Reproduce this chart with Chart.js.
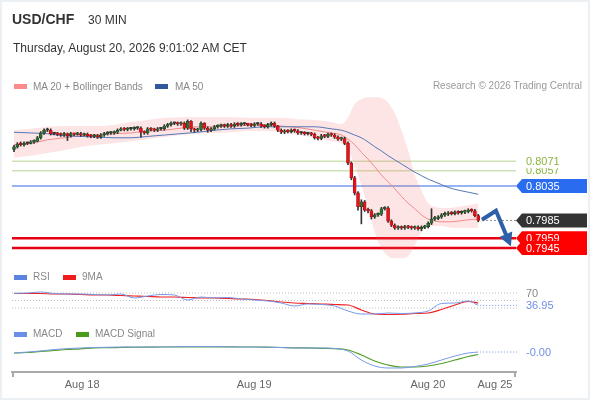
<!DOCTYPE html>
<html lang="en">

<head>
    <meta charset="utf-8">
    <title>USD/CHF 30 MIN</title>
    <script src="https://cdn.jsdelivr.net/npm/chart.js"></script>
    <style>
        body { margin: 0; background: #fff; font-family: "Liberation Sans", Arial, sans-serif; }
        #card { position: relative; width: 590px; height: 400px; overflow: hidden; background: #fff; }
        #frame { position: absolute; left: 0; top: 0; width: 590px; height: 400px; box-sizing: border-box; border: 2px solid #edf0f3; pointer-events: none; }
        #chart { position: absolute; left: 0; top: 0; }
        .t { position: absolute; white-space: nowrap; line-height: 1; }
        .sw { position: absolute; width: 13px; height: 5px; }
    </style>
</head>

<body>
    <div id="card">
        <canvas id="chart" width="590" height="400"></canvas>

        <div class="t" style="left:12px; top:12px; font-size:14px; font-weight:bold; color:#333">USD/CHF</div>
        <div class="t" style="left:88px; top:14px; font-size:12px; color:#333">30 MIN</div>
        <div class="t" style="left:13px; top:42px; font-size:12px; color:#333">Thursday, August 20, 2026 9:01:02 AM CET</div>

        <!-- price legend -->
        <span class="sw" style="left:14px; top:84px; background:#f98b8b"></span>
        <div class="t" style="left:33px; top:81.5px; font-size:10px; color:#888">MA 20 + Bollinger Bands</div>
        <span class="sw" style="left:155px; top:84px; background:#2e5a9c"></span>
        <div class="t" style="left:175px; top:81.5px; font-size:10px; color:#888">MA 50</div>
        <div class="t" style="right:8px; top:81px; font-size:10px; color:#9a9a9a">Research © 2026 Trading Central</div>

        <!-- RSI legend -->
        <span class="sw" style="left:14px; top:275px; background:#5b83e0"></span>
        <div class="t" style="left:33px; top:272px; font-size:10px; color:#888">RSI</div>
        <span class="sw" style="left:63px; top:275px; background:#ee1c1c"></span>
        <div class="t" style="left:82px; top:272px; font-size:10px; color:#888">9MA</div>

        <!-- MACD legend -->
        <span class="sw" style="left:14px; top:332px; background:#6a8fe6"></span>
        <div class="t" style="left:33px; top:329px; font-size:10px; color:#888">MACD</div>
        <span class="sw" style="left:76px; top:332px; background:#4a9a1c"></span>
        <div class="t" style="left:95px; top:329px; font-size:10px; color:#888">MACD Signal</div>

        <div id="frame"></div>
    </div>

    <script>
        // 30 min candles, one per slot on the x axis (0 .. 139)
        const firstOpen = 0.8088; // every later bar opens where the previous one closed
        const closes = [
            0.8092, 0.8096, 0.8095, 0.8097, 0.8097, 0.8099, 0.8100, 0.8105, 0.8112, 0.8116,
            0.8116, 0.8111, 0.8111, 0.8110, 0.8109, 0.8111, 0.8108, 0.8111, 0.8110, 0.8111,
            0.8109, 0.8110, 0.8108, 0.8107, 0.8108, 0.8106, 0.8109, 0.8111, 0.8112, 0.8112,
            0.8113, 0.8116, 0.8118, 0.8117, 0.8118, 0.8118, 0.8119, 0.8119, 0.8113, 0.8112,
            0.8118, 0.8117, 0.8116, 0.8118, 0.8118, 0.8122, 0.8124, 0.8126, 0.8126, 0.8125,
            0.8126, 0.8119, 0.8129, 0.8118, 0.8116, 0.8117, 0.8126, 0.8119, 0.8116, 0.8118,
            0.8121, 0.8122, 0.8123, 0.8122, 0.8124, 0.8122, 0.8125, 0.8124, 0.8125, 0.8125,
            0.8124, 0.8123, 0.8125, 0.8125, 0.8122, 0.8121, 0.8124, 0.8126, 0.8122, 0.8116,
            0.8113, 0.8115, 0.8114, 0.8116, 0.8115, 0.8112, 0.8112, 0.8111, 0.8111, 0.8110,
            0.8105, 0.8104, 0.8108, 0.8107, 0.8110, 0.8109, 0.8106, 0.8103, 0.8104, 0.8097,
            0.8068, 0.8047, 0.8025, 0.8005, 0.8012, 0.8000, 0.7999, 0.7990, 0.7993, 0.7994,
            0.8002, 0.8003, 0.7984, 0.7978, 0.7974, 0.7975, 0.7974, 0.7976, 0.7975, 0.7974,
            0.7975, 0.7973, 0.7975, 0.7976, 0.7981, 0.7987, 0.7988, 0.7990, 0.7993, 0.7994,
            0.7996, 0.7995, 0.7997, 0.7996, 0.7997, 0.7998, 0.8000, 0.7999, 0.7992, 0.7985
        ];
        const highs = [
            0.8094, 0.8098, 0.8099, 0.8099, 0.8099, 0.8101, 0.8102, 0.8107, 0.8114, 0.8118,
            0.8119, 0.8118, 0.8113, 0.8113, 0.8112, 0.8113, 0.8112, 0.8113, 0.8112, 0.8113,
            0.8113, 0.8112, 0.8112, 0.8110, 0.8110, 0.8110, 0.8111, 0.8113, 0.8114, 0.8114,
            0.8115, 0.8118, 0.8120, 0.8120, 0.8120, 0.8120, 0.8121, 0.8121, 0.8121, 0.8115,
            0.8120, 0.8120, 0.8119, 0.8120, 0.8120, 0.8124, 0.8126, 0.8128, 0.8128, 0.8128,
            0.8128, 0.8128, 0.8131, 0.8130, 0.8119, 0.8119, 0.8128, 0.8127, 0.8121, 0.8120,
            0.8123, 0.8124, 0.8125, 0.8125, 0.8126, 0.8126, 0.8127, 0.8127, 0.8127, 0.8127,
            0.8126, 0.8126, 0.8127, 0.8127, 0.8127, 0.8124, 0.8126, 0.8128, 0.8128, 0.8123,
            0.8118, 0.8117, 0.8117, 0.8118, 0.8118, 0.8117, 0.8114, 0.8114, 0.8113, 0.8113,
            0.8112, 0.8107, 0.8110, 0.8110, 0.8112, 0.8112, 0.8111, 0.8108, 0.8106, 0.8106,
            0.8099, 0.8070, 0.8049, 0.8027, 0.8015, 0.8014, 0.8003, 0.8001, 0.7995, 0.7996,
            0.8004, 0.8005, 0.8005, 0.7986, 0.7980, 0.7977, 0.7977, 0.7978, 0.7978, 0.7977,
            0.7977, 0.7977, 0.7977, 0.7978, 0.7983, 0.8002, 0.7991, 0.7992, 0.7995, 0.7997,
            0.7998, 0.7998, 0.7999, 0.7999, 0.7999, 0.8000, 0.8002, 0.8002, 0.8001, 0.7994
        ];
        const lows = [
            0.8085, 0.8090, 0.8093, 0.8093, 0.8095, 0.8096, 0.8097, 0.8099, 0.8103, 0.8110,
            0.8114, 0.8109, 0.8109, 0.8108, 0.8107, 0.8107, 0.8101, 0.8106, 0.8108, 0.8109,
            0.8107, 0.8108, 0.8106, 0.8105, 0.8105, 0.8104, 0.8104, 0.8107, 0.8109, 0.8110,
            0.8110, 0.8111, 0.8115, 0.8115, 0.8115, 0.8116, 0.8116, 0.8117, 0.8106, 0.8110,
            0.8110, 0.8115, 0.8114, 0.8114, 0.8116, 0.8116, 0.8120, 0.8122, 0.8124, 0.8123,
            0.8123, 0.8117, 0.8117, 0.8114, 0.8113, 0.8114, 0.8115, 0.8117, 0.8113, 0.8114,
            0.8116, 0.8119, 0.8120, 0.8120, 0.8120, 0.8120, 0.8120, 0.8122, 0.8122, 0.8123,
            0.8122, 0.8121, 0.8121, 0.8123, 0.8120, 0.8119, 0.8119, 0.8122, 0.8120, 0.8114,
            0.8111, 0.8111, 0.8112, 0.8112, 0.8113, 0.8110, 0.8110, 0.8109, 0.8109, 0.8108,
            0.8103, 0.8102, 0.8102, 0.8105, 0.8105, 0.8107, 0.8104, 0.8101, 0.8101, 0.8095,
            0.8066, 0.8044, 0.8022, 0.8000, 0.7980, 0.7998, 0.7996, 0.7987, 0.7988, 0.7991,
            0.7992, 0.8000, 0.7982, 0.7976, 0.7972, 0.7972, 0.7972, 0.7972, 0.7973, 0.7972,
            0.7972, 0.7971, 0.7970, 0.7973, 0.7974, 0.7979, 0.7985, 0.7986, 0.7988, 0.7991,
            0.7992, 0.7993, 0.7993, 0.7994, 0.7994, 0.7995, 0.7996, 0.7997, 0.7990, 0.7983
        ];

        // moving averages and Bollinger bands, read at these slots
        const maX = [0, 5, 10, 15, 20, 25, 30, 35, 40, 45, 50, 55, 60, 65, 70, 75, 80, 85, 90, 95,
            98, 100, 102, 104, 106, 108, 110, 112, 114, 116, 118, 120, 122, 124, 126, 128, 130, 133, 136, 139];
        const ma20 = [0.8095, 0.8097, 0.8102, 0.8105, 0.8108, 0.8109, 0.8111, 0.8112, 0.8115, 0.8116,
            0.8119, 0.8121, 0.8121, 0.8122, 0.8123, 0.8124, 0.8122, 0.8120, 0.8116, 0.8112,
            0.8109, 0.8103, 0.8095, 0.8084, 0.8074, 0.8063, 0.8051, 0.8041, 0.8031, 0.8020,
            0.8010, 0.8002, 0.7993, 0.7987, 0.7984, 0.7983, 0.7983, 0.7984, 0.7986, 0.7987];
        const ma50 = [0.8113, 0.8112, 0.8111, 0.8108, 0.8107, 0.8106, 0.8105, 0.8105, 0.8107, 0.8109,
            0.8111, 0.8113, 0.8116, 0.8118, 0.8119, 0.8121, 0.8121, 0.8121, 0.8121, 0.8118,
            0.8116, 0.8113, 0.8109, 0.8105, 0.8099, 0.8092, 0.8086, 0.8079, 0.8073, 0.8067,
            0.8061, 0.8055, 0.8050, 0.8045, 0.8041, 0.8037, 0.8033, 0.8029, 0.8026, 0.8023];
        const bbUpper = [0.8116, 0.8118, 0.8121, 0.8122, 0.8122, 0.8122, 0.8124, 0.8128, 0.8131, 0.8134,
            0.8135, 0.8135, 0.8135, 0.8135, 0.8134, 0.8134, 0.8134, 0.8132, 0.8131, 0.8128,
            0.8125, 0.8134, 0.8154, 0.8161, 0.8164, 0.8164, 0.8163, 0.8156, 0.8141, 0.8116,
            0.8087, 0.8051, 0.8029, 0.8010, 0.8005, 0.8003, 0.8003, 0.8005, 0.8007, 0.8010];
        const bbLower = [0.8076, 0.8079, 0.8083, 0.8087, 0.8092, 0.8095, 0.8097, 0.8100, 0.8103, 0.8106,
            0.8109, 0.8111, 0.8112, 0.8113, 0.8115, 0.8115, 0.8113, 0.8109, 0.8105, 0.8100,
            0.8097, 0.8087, 0.8065, 0.8036, 0.8003, 0.7968, 0.7945, 0.7933, 0.7930, 0.7930,
            0.7933, 0.7949, 0.7968, 0.7977, 0.7977, 0.7977, 0.7975, 0.7974, 0.7974, 0.7974];

        // oscillators, read at these slots
        const oscX = [0, 4, 8, 12, 16, 20, 24, 28, 32, 36, 40, 44, 48, 52, 56, 60, 64, 68, 72, 76,
            80, 84, 88, 92, 96, 100, 104, 108, 112, 116, 120, 124, 128, 132, 136, 139];
        const rsi = [69.2, 70, 72.7, 68.7, 67.3, 67.3, 66, 64.7, 67.3, 56.7,
            62, 66, 64.7, 51.3, 59.3, 56.7, 58, 54, 51.3, 48.7,
            43.3, 35.3, 40.7, 39.3, 35.3, 22, 14, 14, 16.7, 15.3,
            16.7, 22, 42, 43.3, 48.7, 36.95];
        const rsiMa = [68.7, 68.7, 68.7, 67.3, 67.3, 66, 64.7, 64.7, 63.3, 62,
            60.7, 59.3, 59.3, 58, 56.7, 56.7, 55.3, 54, 52.7, 50,
            46, 43.3, 42, 40.7, 39.3, 38, 24.7, 14, 12.7, 13.3,
            15.3, 16.7, 26, 38, 47.3, 43.3];
        const macd = [-0.00043, -0.00029, -0.00014, 0.00007, 0.00021, 0.00029, 0.00036, 0.00039, 0.00043, 0.00043,
            0.00043, 0.00043, 0.00046, 0.0005, 0.0005, 0.0005, 0.00046, 0.00043, 0.00043, 0.00039,
            0.00036, 0.00029, 0.00029, 0.00029, 0.00021, -0.00014, -0.00143, -0.00229, -0.00257, -0.00257,
            -0.00236, -0.002, -0.00143, -0.00086, -0.00043, -0.00029];
        const macdSignal = [-0.00043, -0.00036, -0.00021, -0.00007, 0.00007, 0.00017, 0.00029, 0.00033, 0.00036, 0.00039,
            0.0004, 0.00043, 0.00043, 0.00046, 0.00046, 0.00046, 0.00046, 0.00043, 0.00043, 0.0004,
            0.00036, 0.00031, 0.00029, 0.00024, 0.00021, 0, -0.00071, -0.00157, -0.00214, -0.00243,
            -0.00243, -0.00229, -0.00193, -0.00143, -0.00093, -0.00064];
        const rsiLevels = [70, 50, 30];

        // key levels and projected path
        const resistances = [0.8071, 0.8057];
        const pivots = [0.8035];
        const supports = [0.7959, 0.7945];
        const projX = [140.1, 144.3, 147.6];
        const projY = [0.7986, 0.7999, 0.7961];

        // x axis
        const tickPositions = [20.4, 71.9, 123.9, 144.0];
        const tickLabels = ['Aug 18', 'Aug 19', 'Aug 20', 'Aug 25'];

        const FONT = '"Liberation Sans", Arial, sans-serif';
        const pts = (xs, vs) => xs.map((x, k) => ({ x: x, y: vs[k] }));
        const bodies = closes.map((c, i) => ({ x: i, y: [i === 0 ? firstOpen : closes[i - 1], c] }));
        const wicks = closes.map((c, i) => ({ x: i, y: [lows[i], highs[i]] }));

        function hLine(ctx, y, x0, x1, color, width, dash) {
            ctx.save();
            ctx.strokeStyle = color;
            ctx.lineWidth = width;
            ctx.setLineDash(dash || []);
            ctx.beginPath();
            ctx.moveTo(x0, y);
            ctx.lineTo(x1, y);
            ctx.stroke();
            ctx.restore();
        }

        function tag(ctx, y, text, fill) {
            const x0 = 516, x1 = 587, h = 14, tip = 6;
            ctx.beginPath();
            ctx.moveTo(x0, y);
            ctx.lineTo(x0 + tip, y - h / 2);
            ctx.lineTo(x1, y - h / 2);
            ctx.lineTo(x1, y + h / 2);
            ctx.lineTo(x0 + tip, y + h / 2);
            ctx.closePath();
            ctx.fillStyle = fill;
            ctx.fill();
            ctx.fillStyle = '#fff';
            ctx.fillText(text, 526, y + 0.5);
        }

        const overlay = {
            id: 'overlay',
            beforeDatasetsDraw(chart) {
                const { ctx, chartArea: a, scales: { y, yR } } = chart;
                resistances.forEach(v => hLine(ctx, y.getPixelForValue(v), a.left, a.right, '#cfe2b6', 1.5));
                pivots.forEach(v => hLine(ctx, y.getPixelForValue(v), a.left, a.right, '#2d6be3', 1.2));
                supports.forEach(v => hLine(ctx, y.getPixelForValue(v), a.left, a.right, '#e60012', 2.5));
                rsiLevels.forEach(v => hLine(ctx, yR.getPixelForValue(v), a.left, a.right + 1, '#bbbbbb', 1, [1, 2]));
            },
            afterDatasetsDraw(chart) {
                const { ctx, chartArea: a, scales: { x, y, yR, yM } } = chart;
                ctx.save();
                ctx.font = '11px ' + FONT;
                ctx.textBaseline = 'middle';
                ctx.textAlign = 'left';

                // resistance labels (white backed, highest on top)
                resistances.slice().sort((p, q) => p - q).forEach(v => {
                    const py = y.getPixelForValue(v);
                    ctx.fillStyle = '#fff';
                    ctx.fillRect(518, py - 7, 69, 14);
                    ctx.fillStyle = '#8cb53e';
                    ctx.fillText(v.toFixed(4), 526, py + 0.5);
                });

                // last price
                const last = closes[closes.length - 1];
                const lastY = y.getPixelForValue(last);
                hLine(ctx, lastY, x.getPixelForValue(closes.length - 1) + 4, 516, '#666', 1, [1.5, 2.5]);

                pivots.forEach(v => tag(ctx, y.getPixelForValue(v), v.toFixed(4), '#2a6cf0'));
                tag(ctx, lastY, last.toFixed(4), '#333333');
                supports.forEach(v => tag(ctx, y.getPixelForValue(v), v.toFixed(4), '#ff0000'));

                // arrow head on the projected path
                const meta = chart.getDatasetMeta(10);
                const p1 = meta.data[meta.data.length - 2], p2 = meta.data[meta.data.length - 1];
                const ang = Math.atan2(p2.y - p1.y, p2.x - p1.x);
                ctx.save();
                ctx.translate(p2.x, p2.y);
                ctx.rotate(ang);
                ctx.fillStyle = '#2e5fa8';
                ctx.beginPath();
                ctx.moveTo(10, 0);
                ctx.lineTo(-3, -7);
                ctx.lineTo(-3, 7);
                ctx.closePath();
                ctx.fill();
                ctx.restore();

                // RSI labels
                ctx.fillStyle = '#888';
                ctx.fillText(String(rsiLevels[0]), 526, yR.getPixelForValue(rsiLevels[0]) + 0.5);
                const rLast = rsi[rsi.length - 1];
                const rY = yR.getPixelForValue(rLast);
                hLine(ctx, rY, x.getPixelForValue(oscX[oscX.length - 1]) + 2, 517, '#6e8fe6', 1, [1, 2]);
                ctx.fillStyle = '#6e8fe6';
                ctx.fillText(rLast.toFixed(2), 526, rY + 0.5);

                // MACD label
                const mLast = macd[macd.length - 1];
                const mY = yM.getPixelForValue(mLast);
                hLine(ctx, mY, x.getPixelForValue(oscX[oscX.length - 1]) + 2, 517, '#6e8fe6', 1, [1, 2]);
                ctx.fillStyle = '#6e8fe6';
                ctx.fillText(mLast.toFixed(2), 526, mY + 0.5);

                // end ticks of the time axis
                ctx.strokeStyle = '#aaa';
                ctx.lineWidth = 2;
                ctx.beginPath();
                ctx.moveTo(a.left + 1, a.bottom);
                ctx.lineTo(a.left + 1, a.bottom + 5);
                ctx.moveTo(a.right - 1, a.bottom);
                ctx.lineTo(a.right - 1, a.bottom + 5);
                ctx.stroke();
                ctx.restore();
            }
        };

        const line = (data, color, width, axis, order) => ({
            type: 'line', data: data, borderColor: color, borderWidth: width, pointRadius: 0,
            cubicInterpolationMode: 'monotone', yAxisID: axis, order: order, fill: false
        });

        const ctx = document.getElementById('chart').getContext('2d');
        const chart = new Chart(ctx, {
            type: 'bar',
            data: {
                datasets: [
                    {
                        type: 'line', data: pts(maX, bbUpper), borderWidth: 0, pointRadius: 0,
                        cubicInterpolationMode: 'monotone', yAxisID: 'y', order: 20,
                        fill: '+1', backgroundColor: 'rgba(245, 100, 100, 0.17)'
                    },
                    {
                        type: 'line', data: pts(maX, bbLower), borderWidth: 0, pointRadius: 0,
                        cubicInterpolationMode: 'monotone', yAxisID: 'y', order: 20, fill: false
                    },
                    line(pts(maX, ma50), '#5576b6', 1, 'y', 15),
                    line(pts(maX, ma20), '#f08a8a', 1, 'y', 15),
                    {
                        data: wicks, yAxisID: 'y', grouped: false, barThickness: 1,
                        backgroundColor: '#333333', order: 10
                    },
                    {
                        data: bodies, yAxisID: 'y', grouped: false, barThickness: 3, minBarLength: 1.5,
                        order: 9, borderWidth: 0.6, borderSkipped: false,
                        backgroundColor: c => {
                            const o = c.raw.y[0], cl = c.raw.y[1];
                            return cl > o ? '#2f7035' : (cl < o ? '#e3141b' : '#3a3a3a');
                        },
                        borderColor: c => {
                            const o = c.raw.y[0], cl = c.raw.y[1];
                            return cl > o ? '#1c3f1f' : (cl < o ? '#a40d10' : '#333333');
                        }
                    },
                    line(pts(oscX, rsi), '#7799e8', 1, 'yR', 5),
                    line(pts(oscX, rsiMa), '#ee2222', 1.2, 'yR', 5),
                    line(pts(oscX, macd), '#7799e8', 1, 'yM', 5),
                    line(pts(oscX, macdSignal), '#55a02a', 1.2, 'yM', 5),
                    {
                        type: 'line', data: pts(projX, projY), borderColor: '#2e5fa8', borderWidth: 4,
                        pointRadius: 0, tension: 0, yAxisID: 'y', order: 1, fill: false,
                        borderJoinStyle: 'miter', clip: false
                    }
                ]
            },
            options: {
                responsive: false,
                animation: false,
                events: [],
                layout: { padding: { left: 12, right: 74, top: 95, bottom: 0 } },
                plugins: { legend: { display: false }, tooltip: { enabled: false } },
                scales: {
                    x: {
                        type: 'linear', min: -0.6, max: 150.3, offset: false,
                        grid: { display: false, drawTicks: false },
                        border: { display: true, color: '#aaa', width: 2 },
                        ticks: {
                            padding: 6, color: '#666', font: { size: 11, family: FONT },
                            autoSkip: false, maxRotation: 0,
                            callback: (v, i) => tickLabels[i]
                        },
                        afterBuildTicks: s => { s.ticks = tickPositions.map(v => ({ value: v })); },
                        afterFit: s => { s.height = 28; }
                    },
                    y: { display: false, min: 0.776493, max: 0.816713, beginAtZero: false },
                    yR: { display: false, min: -140.67, max: 598 },
                    yM: { display: false, min: -0.0031429, max: 0.036429 }
                }
            },
            plugins: [overlay]
        });
    </script>
</body>

</html>
